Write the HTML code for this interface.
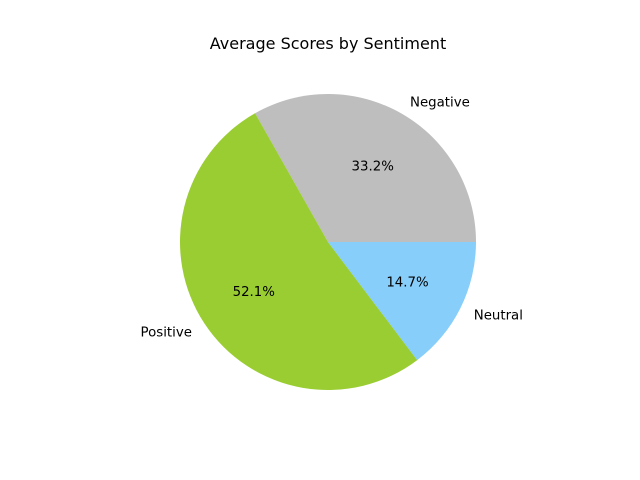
<!DOCTYPE html>
<html><head><meta charset="utf-8"><style>
html,body{margin:0;padding:0;background:#fff;}
svg{display:block;font-family:"DejaVu Sans","Liberation Sans",sans-serif;}
</style></head><body>
<svg id="chart" width="640" height="480" viewBox="0 0 640 480">
<rect width="640" height="480" fill="#fff"/>
<text x="328" y="49" text-anchor="middle" font-size="16" fill="#000">Average Scores by Sentiment</text>
<g id="slices"></g>
<g id="labels"></g>
</svg>
<script>
const categories = ["Negative", "Positive", "Neutral"];
const values = [33.2, 52.1, 14.7];
const colors = ["#bebebe", "#9acd32", "#87cefa"];
const cx = 328, cy = 242, r = 148;
const NS = "http://www.w3.org/2000/svg";
const total = values.reduce((a, b) => a + b, 0);
const gS = document.getElementById("slices"), gL = document.getElementById("labels");
function pt(deg, rr) { const a = deg * Math.PI / 180; return [cx + rr * Math.cos(a), cy - rr * Math.sin(a)]; }
let start = 0;
values.forEach((v, i) => {
  const sweep = v / total * 360, end = start + sweep;
  const p1 = pt(start, r), p2 = pt(end, r);
  const path = document.createElementNS(NS, "path");
  path.setAttribute("d", `M${cx},${cy} L${p1[0]},${p1[1]} A${r},${r} 0 ${sweep > 180 ? 1 : 0} 0 ${p2[0]},${p2[1]} Z`);
  path.setAttribute("fill", colors[i]);
  
  
  gS.appendChild(path);
  const mid = start + sweep / 2;
  const lp = pt(mid, r * 1.1);
  const t = document.createElementNS(NS, "text");
  t.setAttribute("x", lp[0]); t.setAttribute("y", lp[1] + 5);
  t.setAttribute("font-size", "13.33");
  t.setAttribute("text-anchor", Math.cos(mid * Math.PI / 180) >= 0 ? "start" : "end");
  t.textContent = categories[i];
  
  
  gL.appendChild(t);
  const pp = pt(mid, r * 0.6);
  const tp = document.createElementNS(NS, "text");
  tp.setAttribute("x", pp[0]); tp.setAttribute("y", pp[1] + 5);
  tp.setAttribute("font-size", "13.33");
  tp.setAttribute("text-anchor", "middle");
  tp.textContent = (v / total * 100).toFixed(1) + "%";
  
  
  gL.appendChild(tp);
  start = end;
});
</script>
</body></html>
